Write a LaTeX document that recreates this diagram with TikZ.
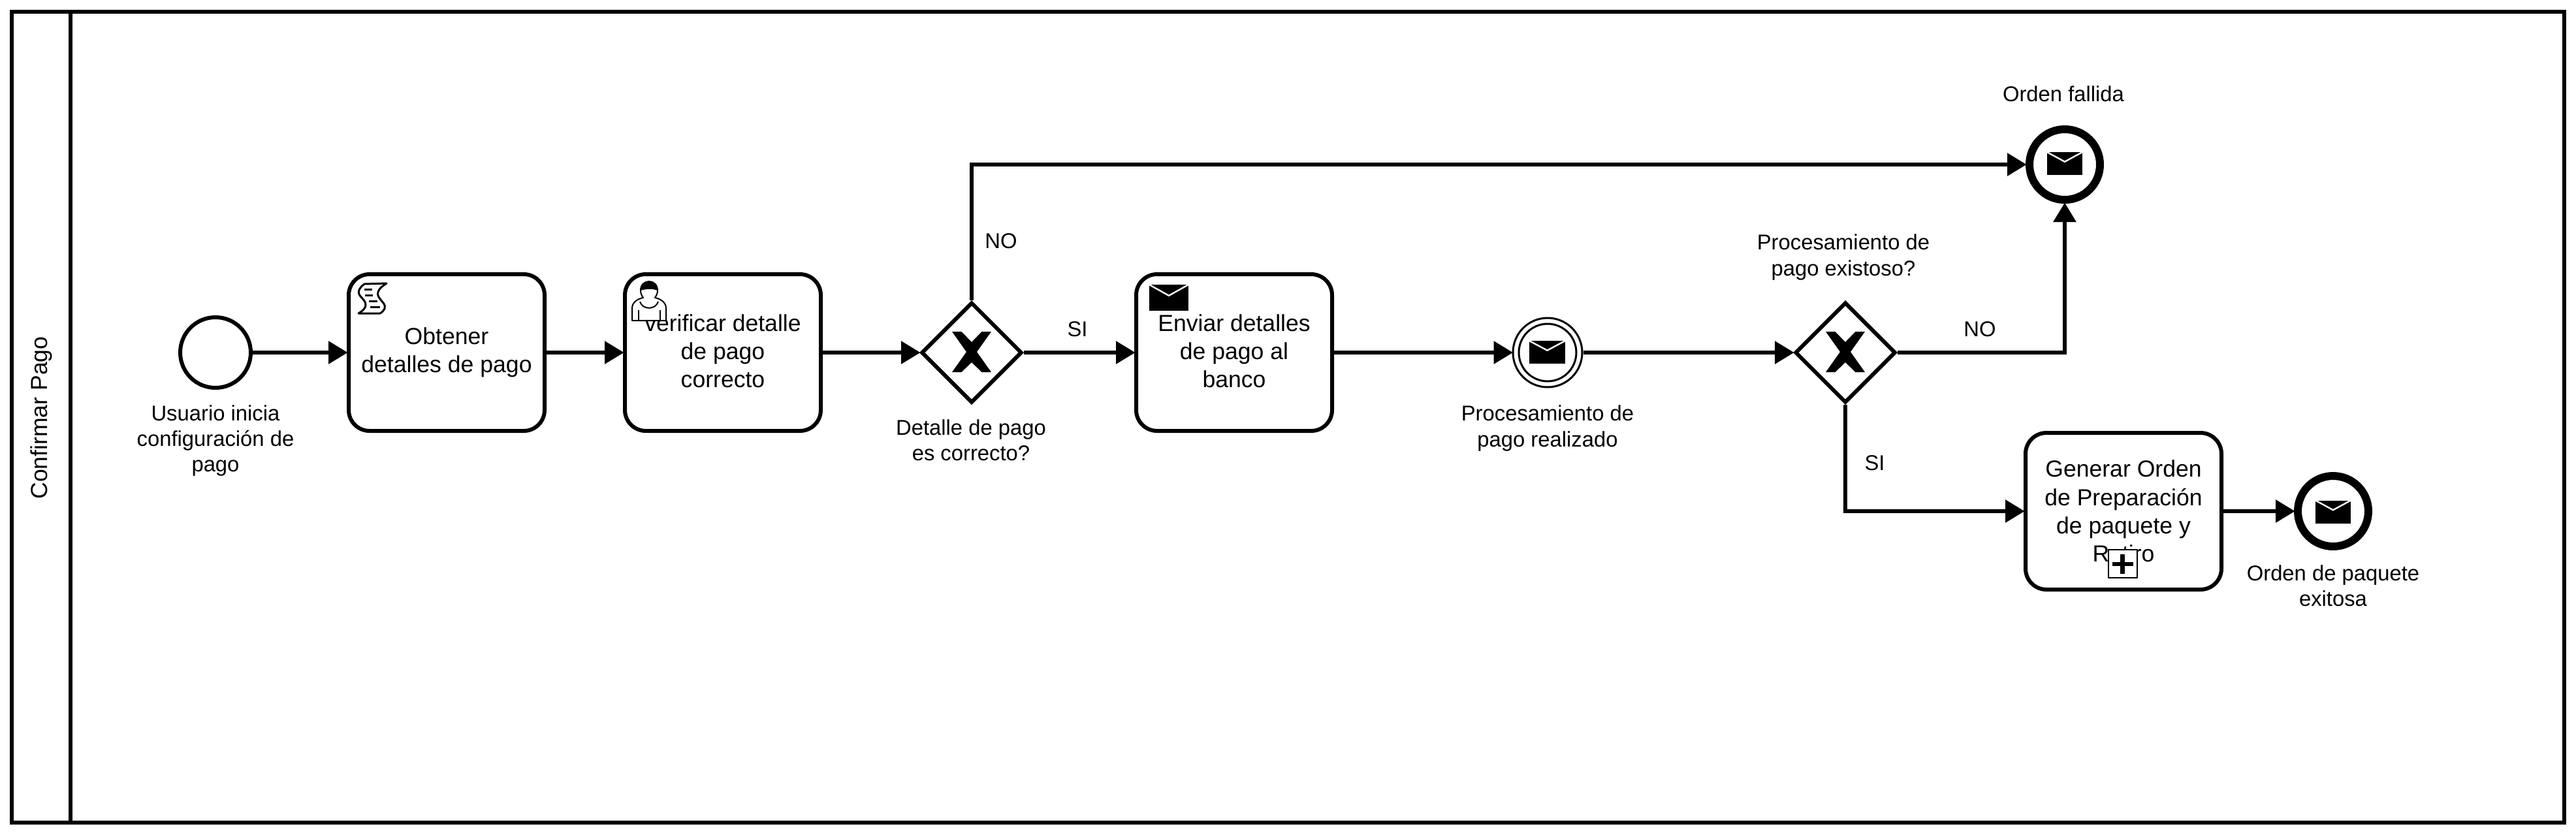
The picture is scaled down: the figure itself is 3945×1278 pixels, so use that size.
\documentclass[tikz,border=0pt]{standalone}
\usepackage{fontspec}
\setmainfont{Liberation Sans}
\usetikzlibrary{arrows.meta,shapes.geometric}
\tikzset{
  x=0.25pt,y=-0.25pt,
  taskbox/.style={draw=black,fill=white,line width=1.5pt,rounded corners=8pt,minimum width=75pt,minimum height=60pt,inner sep=0pt,align=center,font=\fontsize{8.9}{10.8}\selectfont},
  gatebox/.style={draw=black,fill=white,line width=1.5pt,diamond,aspect=1,minimum width=38.5pt,minimum height=38.5pt,inner sep=0pt},
  startev/.style={draw=black,fill=white,line width=1.5pt,circle,minimum size=27pt,inner sep=0pt},
  midev/.style={draw=black,fill=white,line width=0.75pt,circle,minimum size=26.5pt,inner sep=0pt},
  endev/.style={draw=black,fill=white,line width=3pt,circle,minimum size=27pt,inner sep=0pt},
  lbl/.style={align=center,inner sep=0pt,font=\fontsize{8.2}{9.8}\selectfont},
  flow/.style={draw=black,line width=1.5pt,shorten >=-0.4pt,-{Triangle[length=7.4pt,width=8.5pt]}},
  iconline/.style={draw=black,line width=0.5pt,line join=round},
}
\newcommand{\envelopeicon}[4]{%
  \fill[black] (#1-#3/2,#2-#4/2) rectangle (#1+#3/2,#2+#4/2);
  \draw[white,line width=0.6pt] (#1-#3/2,#2-#4/2) -- (#1,#2-#4/2+#4*0.42) -- (#1+#3/2,#2-#4/2);
}
\newcommand{\gateX}[2]{%
  \fill[black] (#1-30,#2-31) -- (#1-15.5,#2-31) -- (#1,#2-15) -- (#1+15.5,#2-31) -- (#1+30,#2-31) -- (#1+8,#2) -- (#1+30,#2+31) -- (#1+15.5,#2+31) -- (#1,#2+16) -- (#1-15.5,#2+31) -- (#1-30,#2+31) -- (#1-8,#2) -- cycle;
}
\begin{document}
\begin{tikzpicture}
\useasboundingbox (0,0) rectangle (3945,1278);
\fill[white] (0,0) rectangle (3945,1278);
% pool
\draw[black,line width=1.5pt] (18,18) rectangle (3927,1260);
\draw[black,line width=1.5pt] (108,18) -- (108,1260);
\node[lbl,rotate=90,font=\fontsize{8.9}{10.8}\selectfont] (pool) at (63,640) {Confirmar Pago};
% nodes
\node[startev] (start) at (330,540) {};
\node[taskbox] (t1) at (684,540) {Obtener\\detalles de pago};
\node[taskbox] (t2) at (1107,540) {verificar detalle\\de pago\\correcto\rule[-1.3pt]{0pt}{1pt}};
\node[gatebox] (g1) at (1488,540) {};
\node[taskbox] (t3) at (1890,540) {Enviar detalles\\de pago al\\banco\rule[-1.3pt]{0pt}{1pt}};
\node[midev] (ev) at (2370,540) {};
\node[gatebox] (g2) at (2826,540) {};
\node[endev] (fail) at (3162,252) {};
\node[taskbox] (t4) at (3252,783) {Generar Orden\\de Preparación\\de paquete y\\Retiro};
\node[endev] (ok) at (3573,783) {};
% connectors
\draw[flow] (start) -- (t1);
\draw[flow] (t1) -- (t2);
\draw[flow] (t2) -- (g1);
\draw[flow] (g1) -- (t3);
\draw[flow] (t3) -- (ev);
\draw[flow] (ev) -- (g2);
\draw[flow] (g1.north) |- (fail.west);
\draw[flow] (g2.east) -| (fail.south);
\draw[flow] (g2.south) |- (t4.west);
\draw[flow] (t4) -- (ok);
% inner details
\draw[black,line width=0.75pt] (2370,540) circle[radius=11pt];
\gateX{1488}{539}
\gateX{2826}{539}
\envelopeicon{2369.5}{539.5}{55}{35}
\envelopeicon{3162}{250.5}{54}{35}
\envelopeicon{3573}{784}{54}{35}
\envelopeicon{1790}{456}{60}{40}
% script icon
\draw[iconline,line width=0.75pt,fill=white] (558,435) -- (592,434) .. controls (570,448) and (580,455) .. (587,464) .. controls (592,470) and (589,476) .. (582,480) -- (549,480) .. controls (566,470) and (560,462) .. (553,455) .. controls (546,448) and (550,441) .. (558,435) -- cycle;
\draw[iconline,line width=0.75pt] (558,443) -- (570,443) (559,452) -- (571,452) (565,461) -- (578,461) (567,470) -- (582,470);
% user icon
\draw[iconline,fill=white] (968,491) -- (968,472) .. controls (968,464) and (975,458) .. (985,456) .. controls (982,452) and (981,448) .. (981,445) .. controls (981,436) and (987,431) .. (994,431) .. controls (1001,431) and (1007,436) .. (1007,445) .. controls (1007,448) and (1006,452) .. (1003,456) .. controls (1013,458) and (1020,464) .. (1020,472) -- (1020,491) -- cycle;
\fill[black] (981,445) .. controls (981,436) and (987,431) .. (994,431) .. controls (1001,431) and (1007,436) .. (1007,445) .. controls (1000,442) and (990,442) .. (981,445) -- cycle;
\draw[iconline] (980,462) .. controls (984,475) and (1004,475) .. (1008,462);
\draw[iconline] (978,475) -- (978,491) (1011,475) -- (1011,491);
% plus marker
\draw[black,line width=0.6pt,fill=white] (3229,842) rectangle (3273,885);
\fill[black] (3235,861) rectangle (3267,867);
\fill[black] (3247,849) rectangle (3254,879);
% labels
\node[lbl] (l1) at (330,675) {Usuario inicia\\configuración de\\pago};
\node[lbl] (l2) at (1487,674) {Detalle de pago\\es correcto?};
\node[lbl] (l3) at (2370,656) {Procesamiento de\\pago realizado};
\node[lbl] (l4) at (2823,394) {Procesamiento de\\pago existoso?};
\node[lbl] (l5) at (3160,144) {Orden fallida};
\node[lbl] (l6) at (3573,897) {Orden de paquete\\exitosa};
\node[lbl] (no1) at (1533,369) {NO};
\node[lbl] (si1) at (1650,504) {SI};
\node[lbl] (no2) at (3032,504) {NO};
\node[lbl] (si2) at (2871,709) {SI};
\end{tikzpicture}
\end{document}
